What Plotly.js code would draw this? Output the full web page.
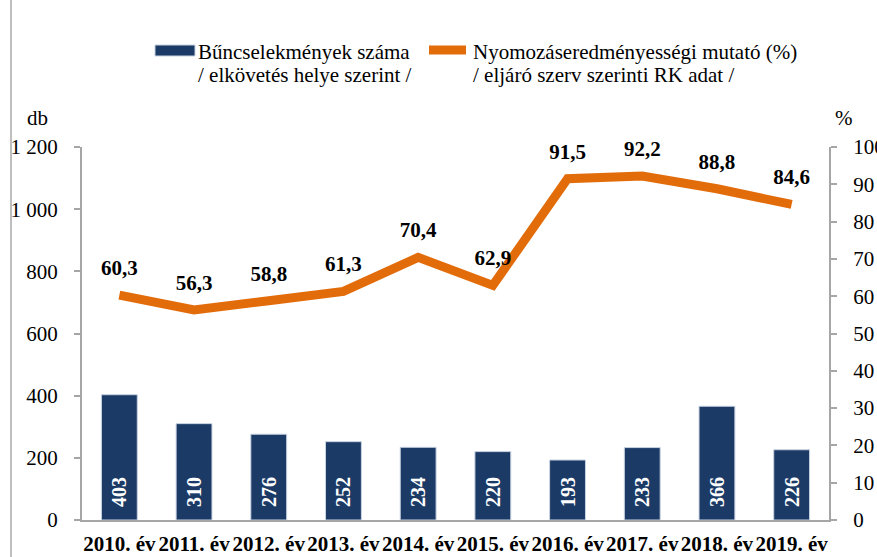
<!DOCTYPE html>
<html>
<head>
<meta charset="utf-8">
<script src="https://cdn.plot.ly/plotly-3.0.1.min.js"></script>
<style>
html,body{margin:0;padding:0;background:#fff;}
#chart{width:877px;height:557px;}
</style>
</head>
<body>
<div id="chart"></div>
<script>
const categories = ['2010. év','2011. év','2012. év','2013. év','2014. év','2015. év','2016. év','2017. év','2018. év','2019. év'];
const crimeCounts = [403, 310, 276, 252, 234, 220, 193, 233, 366, 226];
const successRate = [60.3, 56.3, 58.8, 61.3, 70.4, 62.9, 91.5, 92.2, 88.8, 84.6];
const leftTickVals = [0, 200, 400, 600, 800, 1000, 1200];
const leftTickText = ['0', '200', '400', '600', '800', '1 000', '1 200'];
const rightTickVals = [0, 10, 20, 30, 40, 50, 60, 70, 80, 90, 100];
const barLegend = ['Bűncselekmények száma', '/ elkövetés helye szerint /'];
const lineLegend = ['Nyomozáseredményességi mutató (%)', '/ eljáró szerv szerinti RK adat /'];

const FONT = 'Liberation Serif';
const ORANGE = '#E36C0A';
const NAVY = '#1B3A66';
const GRAY = '#A6A6A6';

const bars = {
  type: 'bar', x: categories, y: crimeCounts, yaxis: 'y', width: 0.48,
  marker: {color: NAVY, line: {color: '#C9D3E2', width: 1}},
  text: crimeCounts.map(v => '\u00a0\u00a0' + v), textposition: 'inside', insidetextanchor: 'start',
  textangle: -90, constraintext: 'none',
  textfont: {family: FONT, size: 20, color: '#ffffff', weight: 'bold'},
  hoverinfo: 'x+y', showlegend: false
};
const line = {
  type: 'scatter', mode: 'lines+markers+text', x: categories, y: successRate, yaxis: 'y2',
  line: {color: ORANGE, width: 9, shape: 'linear'},
  marker: {size: 22, color: 'rgba(0,0,0,0)'},
  text: successRate.map(v => v.toFixed(1).replace('.', ',')),
  textposition: 'top center',
  textfont: {family: FONT, size: 21, color: '#000', weight: 'bold'},
  cliponaxis: false, showlegend: false
};

const px = x => (x - 82) / 747;
const py = y => (520 - y) / 373;

const layout = {
  width: 877, height: 557,
  margin: {l: 82, r: 48, t: 147, b: 37},
  paper_bgcolor: '#fff', plot_bgcolor: '#fff',
  font: {family: FONT, size: 21, color: '#000'},
  xaxis: {
    type: 'category', range: [-0.5, 9.5], autorange: false,
    showline: true, linecolor: GRAY, linewidth: 2, tickangle: 0,
    ticks: '', showgrid: false, zeroline: false,
    tickfont: {family: FONT, size: 21, color: '#000', weight: 'bold'},
    ticklabelstandoff: 4, fixedrange: true
  },
  yaxis: {
    range: [0, 1200], tickvals: leftTickVals, ticktext: leftTickText,
    showline: true, linecolor: GRAY, linewidth: 2, ticks: 'outside', ticklen: 6,
    tickcolor: GRAY, tickwidth: 2, showgrid: false, zeroline: false,
    tickfont: {family: FONT, size: 21, color: '#000'}, ticklabelstandoff: 12
  },
  yaxis2: {
    range: [0, 100], tickvals: rightTickVals, overlaying: 'y', side: 'right',
    showline: true, linecolor: GRAY, linewidth: 2, ticks: 'outside', ticklen: 6,
    tickcolor: GRAY, tickwidth: 2, showgrid: false, zeroline: false,
    tickfont: {family: FONT, size: 21, color: '#000'}, ticklabelstandoff: 12
  },
  shapes: [
    {type: 'line', xref: 'paper', yref: 'paper', x0: px(11), x1: px(11), y0: py(560), y1: py(-2),
     line: {color: '#BFBFBF', width: 2}},
    {type: 'rect', xref: 'paper', yref: 'paper', x0: px(155), x1: px(195), y0: py(56), y1: py(45),
     fillcolor: NAVY, line: {color: '#C9D3E2', width: 1}},
    {type: 'line', xref: 'paper', yref: 'paper', x0: px(429), x1: px(466), y0: py(50), y1: py(50),
     line: {color: ORANGE, width: 9}}
  ],
  annotations: [
    {xref: 'paper', yref: 'paper', x: px(196), y: py(52), xanchor: 'left', yanchor: 'middle', text: barLegend[0], showarrow: false, font: {family: FONT, size: 21}},
    {xref: 'paper', yref: 'paper', x: px(196), y: py(75), xanchor: 'left', yanchor: 'middle', text: barLegend[1], showarrow: false, font: {family: FONT, size: 21}},
    {xref: 'paper', yref: 'paper', x: px(471), y: py(52), xanchor: 'left', yanchor: 'middle', text: lineLegend[0], showarrow: false, font: {family: FONT, size: 21}},
    {xref: 'paper', yref: 'paper', x: px(471), y: py(75), xanchor: 'left', yanchor: 'middle', text: lineLegend[1], showarrow: false, font: {family: FONT, size: 21}},
    {xref: 'paper', yref: 'paper', x: px(37), y: py(118), xanchor: 'center', yanchor: 'middle', text: 'db', showarrow: false, font: {family: FONT, size: 21}},
    {xref: 'paper', yref: 'paper', x: px(844), y: py(118), xanchor: 'center', yanchor: 'middle', text: '%', showarrow: false, font: {family: FONT, size: 21}}
  ],
  showlegend: false
};

Plotly.newPlot('chart', [bars, line], layout, {displayModeBar: false, staticPlot: true});
</script>
</body>
</html>
